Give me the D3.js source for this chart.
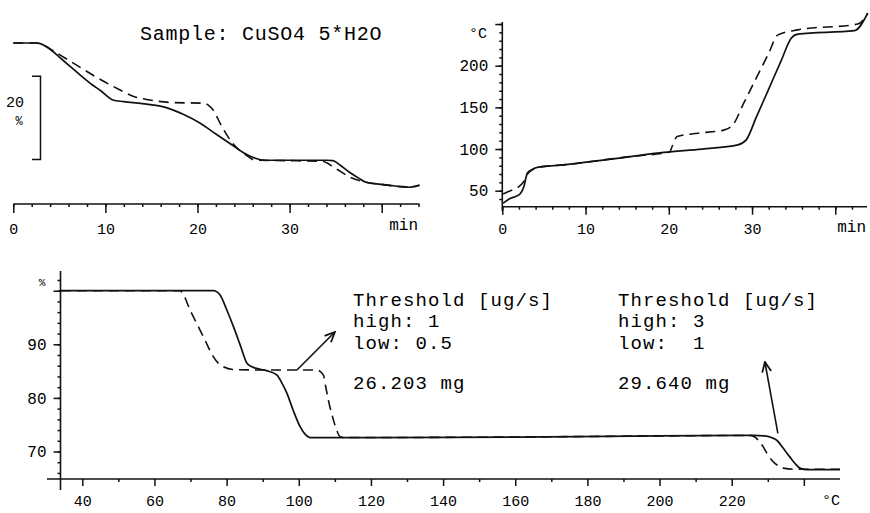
<!DOCTYPE html>
<html><head><meta charset="utf-8">
<script src="https://cdn.jsdelivr.net/npm/d3@7/dist/d3.min.js"></script>
<style>
body{margin:0;background:#fff}
svg{display:block}
text{font-family:"Liberation Mono","DejaVu Sans Mono",monospace;fill:#000}
</style>
</head><body>
<svg id="c" width="870" height="513"></svg>
<script>
// ---------------- DATA ----------------
const sampleTitle = "Sample: CuSO4 5*H2O";

// Top-left: mass loss (%) vs time (min)
const massSolidMin = [0, 2.5, 3, 4, 5, 6, 7, 8.6, 9.5, 10.8, 12, 14, 16.7, 18.5, 20.3, 22, 23.8, 25, 26, 27.5, 30, 34, 34.7, 35.5, 36.5, 37.5, 38.3, 39.9, 41.5, 43, 44.1];
const massSolidPct = [100, 100, 99.8, 98.5, 96.6, 94.7, 92.8, 89.9, 88.5, 86.3, 85.9, 85.4, 84.4, 82.8, 80.7, 78.1, 75.4, 73.6, 72.5, 71.8, 71.8, 71.8, 71.7, 70.6, 68.9, 67.5, 66.5, 66.0, 65.6, 65.3, 65.8];
const massDashMin = [0, 2.5, 3, 4, 5.1, 7, 9, 11.6, 13, 14.8, 17, 20.8, 21.2, 21.7, 22.5, 23.8, 25.3, 26.3, 30, 33.6, 35, 36.5, 38.3, 40, 43, 44.1];
const massDashPct = [100, 100, 99.8, 98.6, 97.1, 94.5, 91.8, 88.7, 87.2, 86.3, 85.7, 85.5, 85.0, 83.9, 80.5, 75.9, 73.0, 71.8, 71.7, 71.5, 69.8, 67.8, 66.5, 66.0, 65.3, 65.8];
const massTimeTicks = [0, 10, 20, 30, 40];
const massTimeLabels = ["0", "10", "20", "30", ""];
const scaleBarRange = [92, 72];   // the "20 %" bracket

// Top-right: temperature (°C) vs time (min)
const tempSolidMin = [0.1, 1, 1.6, 2.2, 2.6, 3, 3.5, 4.2, 7.4, 15.4, 19.4, 24, 28.3, 29.3, 30.5, 32, 33.5, 34.7, 35.5, 42.3, 43.9];
const tempSolidC   = [35, 41, 43, 47, 55, 71, 75, 78, 81, 91, 96, 100, 105, 111, 138, 172, 206, 233, 238, 242, 263];
const tempDashMin  = [0.1, 1, 2, 2.6, 3.1, 3.6, 4.2, 7.4, 15.4, 20.1, 20.4, 21, 23.5, 26.7, 27.7, 29, 30.5, 32, 33.1, 35.5, 42.7, 43.9];
const tempDashC    = [46, 50, 55, 61, 71, 75, 78, 81, 91, 96.5, 103, 115, 119, 123, 129, 155, 185, 215, 237, 243, 250, 263];
const tempTimeTicks = [0, 10, 20, 30, 40];
const tempTimeLabels = ["0", "10", "20", "30", ""];
const tempTicks = [50, 100, 150, 200, 250];
const tempLabels = ["50", "100", "150", "200", ""];

// Bottom: mass (%) vs temperature (°C)
const tgSolidC   = [34, 60, 74, 76.3, 77.5, 78.2, 80, 81.9, 83.8, 85.6, 87, 88.3, 91, 93.9, 95.3, 96.7, 98.5, 100.4, 101.8, 103.2, 120, 160, 200, 226, 229, 231, 232.5, 234.3, 236.1, 237.5, 238.9, 241, 250];
const tgSolidPct = [100, 100, 100, 100, 99.7, 99.2, 96.5, 93.3, 89.8, 86.5, 85.8, 85.5, 85.1, 84.3, 82.8, 80.9, 77.6, 74.6, 73.2, 72.6, 72.6, 72.7, 72.9, 73.0, 72.9, 72.6, 72.1, 70.6, 69.0, 67.8, 66.9, 66.6, 66.6];
const tgDashC    = [34, 60, 67, 67.5, 70, 72, 74, 76.3, 77.8, 79.1, 81.9, 90, 100, 105, 106.8, 107.5, 108.2, 109.6, 110.5, 111.4, 112.5, 160, 200, 225, 226.4, 227.5, 228.7, 230, 231.5, 233, 234.3, 237, 250];
const tgDashPct  = [100, 100, 100, 99.8, 96.2, 93.5, 90.8, 87.7, 86.4, 85.8, 85.3, 85.2, 85.2, 85.2, 84.3, 82.0, 79.6, 75.9, 74.0, 72.8, 72.6, 72.7, 72.9, 73.0, 72.7, 72.0, 70.9, 69.4, 68.1, 67.3, 66.9, 66.7, 66.7];
const tgTempTicks = [40, 60, 80, 100, 120, 140, 160, 180, 200, 220, 240];
const tgTempLabels = ["40", "60", "80", "100", "120", "140", "160", "180", "200", "220", ""];
const tgPctTicks = [70, 80, 90, 100];
const tgPctLabels = ["70", "80", "90", ""];

// Annotations
const thresholdA = ["Threshold [ug/s]", "high: 1", "low: 0.5", "26.203 mg"];
const thresholdB = ["Threshold [ug/s]", "high: 3", "low:  1", "29.640 mg"];
const arrowA = [[99.5, 85.2], [110.0, 92.3]];   // [°C, %]
const arrowB = [[232.8, 73.4], [229.2, 86.7]];

// ---------------- DRAW ----------------
const svg = d3.select("#c");
const ink = "#111";

const defs = svg.append("defs");
defs.append("marker").attr("id", "ah").attr("viewBox", "0 0 12 12")
  .attr("refX", 11).attr("refY", 6).attr("markerWidth", 12).attr("markerHeight", 12)
  .attr("markerUnits", "userSpaceOnUse").attr("orient", "auto")
  .append("path").attr("d", "M1,1.5 L11,6 L1,10.5").attr("fill", "none")
  .attr("stroke", ink).attr("stroke-width", 1.8);

function zip(a, b) { return a.map((v, i) => [v, b[i]]); }
function drawLine(g, x, y, xs, ys, dashed) {
  const line = d3.line().x(d => x(d[0])).y(d => y(d[1])).curve(d3.curveMonotoneX);
  g.append("path").datum(zip(xs, ys)).attr("d", line)
    .attr("fill", "none").attr("stroke", ink)
    .attr("stroke-width", dashed ? 1.6 : 1.7)
    .attr("stroke-dasharray", dashed ? "10,6" : null);
}
function styleAxis(g) {
  g.select(".domain").remove();
  g.selectAll("line").attr("stroke", ink).attr("stroke-width", 1.5);
  g.selectAll("text").style("font-family", '"Liberation Mono", monospace').style("font-size", "15px").attr("fill", ink);
}

// ---- Top-left ----
{
  const x = d3.scaleLinear().domain([0, 40]).range([13.3, 381.7]);
  const y = d3.scaleLinear().domain([100, 72]).range([43, 159.4]);
  const g = svg.append("g");
  const axY = 204;
  g.append("line").attr("x1", x(0)).attr("x2", x(44.1)).attr("y1", axY).attr("y2", axY)
    .attr("stroke", ink).attr("stroke-width", 1.6);
  const minor = g.append("g").attr("transform", `translate(0,${axY})`)
    .call(d3.axisBottom(x).tickValues(d3.range(0, 45, 2)).tickSize(3).tickFormat(""));
  styleAxis(minor);
  const major = g.append("g").attr("transform", `translate(0,${axY})`)
    .call(d3.axisBottom(x).tickValues(massTimeTicks).tickSize(9).tickFormat((d, i) => massTimeLabels[i]));
  styleAxis(major);
  major.selectAll("text").attr("y", 19).attr("dy", "0.71em");
  g.append("text").attr("x", 418).attr("y", 230).attr("text-anchor", "end").style("font-size", "16px").text("min");
  // scale bar
  const sb = d3.path();
  sb.moveTo(32, y(scaleBarRange[0])); sb.lineTo(40.5, y(scaleBarRange[0]));
  sb.lineTo(40.5, y(scaleBarRange[1])); sb.lineTo(32, y(scaleBarRange[1]));
  g.append("path").attr("d", sb.toString()).attr("fill", "none").attr("stroke", ink).attr("stroke-width", 1.5);
  g.append("text").attr("x", 15).attr("y", 107).attr("text-anchor", "middle").style("font-size", "15px").text("20");
  g.append("text").attr("x", 19).attr("y", 125).attr("text-anchor", "middle").style("font-size", "12px").text("%");
  drawLine(g, x, y, massSolidMin, massSolidPct, false);
  drawLine(g, x, y, massDashMin, massDashPct, true);
  g.append("text").attr("x", 140).attr("y", 40).style("font-size", "20px").style("letter-spacing", "0.75px").text(sampleTitle);
}

// ---- Top-right ----
{
  const x = d3.scaleLinear().domain([0, 40]).range([502.3, 835.3]);
  const y = d3.scaleLinear().domain([50, 200]).range([190.7, 65.7]);
  const g = svg.append("g");
  const axY = 206.7, axX = 502.3;
  g.append("line").attr("x1", axX).attr("x2", 867).attr("y1", axY).attr("y2", axY).attr("stroke", ink).attr("stroke-width", 1.6);
  g.append("line").attr("x1", axX).attr("x2", axX).attr("y1", 22).attr("y2", 211).attr("stroke", ink).attr("stroke-width", 1.6);
  const mx = g.append("g").attr("transform", `translate(0,${axY})`)
    .call(d3.axisBottom(x).tickValues(d3.range(0, 44, 2)).tickSize(3).tickFormat(""));
  styleAxis(mx);
  const Mx = g.append("g").attr("transform", `translate(0,${axY})`)
    .call(d3.axisBottom(x).tickValues(tempTimeTicks).tickSize(8).tickFormat((d, i) => tempTimeLabels[i]));
  styleAxis(Mx);
  Mx.selectAll("text").attr("y", 17).attr("dy", "0.71em");
  const my = g.append("g").attr("transform", `translate(${axX},0)`)
    .call(d3.axisLeft(y).tickValues(d3.range(40, 260, 10)).tickSize(3).tickFormat(""));
  styleAxis(my);
  const My = g.append("g").attr("transform", `translate(${axX},0)`)
    .call(d3.axisLeft(y).tickValues(tempTicks).tickSize(7).tickFormat((d, i) => tempLabels[i]));
  styleAxis(My);
  My.selectAll("text").attr("x", -14).style("font-size", "16px");
  g.append("text").attr("x", 487).attr("y", 38).attr("text-anchor", "end").style("font-size", "15px").text("°C");
  g.append("text").attr("x", 866).attr("y", 232).attr("text-anchor", "end").style("font-size", "16px").text("min");
  drawLine(g, x, y, tempSolidMin, tempSolidC, false);
  drawLine(g, x, y, tempDashMin, tempDashC, true);
}

// ---- Bottom ----
{
  const x = d3.scaleLinear().domain([40, 220]).range([82.3, 731.7]);
  const y = d3.scaleLinear().domain([100, 70]).range([290.7, 451.5]);
  const g = svg.append("g");
  const axY = 479, axX = 60.5;
  g.append("line").attr("x1", 47).attr("x2", 840).attr("y1", axY).attr("y2", axY).attr("stroke", ink).attr("stroke-width", 1.6);
  g.append("line").attr("x1", axX).attr("x2", axX).attr("y1", 271).attr("y2", 490).attr("stroke", ink).attr("stroke-width", 1.6);
  const mx = g.append("g").attr("transform", `translate(0,${axY})`)
    .call(d3.axisBottom(x).tickValues(d3.range(50, 250, 20)).tickSize(3).tickFormat(""));
  styleAxis(mx);
  const Mx = g.append("g").attr("transform", `translate(0,${axY})`)
    .call(d3.axisBottom(x).tickValues(tgTempTicks).tickSize(7).tickFormat((d, i) => tgTempLabels[i]));
  styleAxis(Mx);
  Mx.selectAll("text").attr("y", 16).attr("dy", "0.71em");
  const my = g.append("g").attr("transform", `translate(${axX},0)`)
    .call(d3.axisLeft(y).tickValues(d3.range(66, 104, 2)).tickSize(3).tickFormat(""));
  styleAxis(my);
  const My = g.append("g").attr("transform", `translate(${axX},0)`)
    .call(d3.axisLeft(y).tickValues(tgPctTicks).tickSize(7).tickFormat((d, i) => tgPctLabels[i]));
  styleAxis(My);
  My.selectAll("text").attr("x", -14).style("font-size", "16px");
  g.append("text").attr("x", 42).attr("y", 286).attr("text-anchor", "middle").style("font-size", "11px").text("%");
  g.append("text").attr("x", 840).attr("y", 505).attr("text-anchor", "end").style("font-size", "15px").text("°C");
  drawLine(g, x, y, tgSolidC, tgSolidPct, false);
  drawLine(g, x, y, tgDashC, tgDashPct, true);

  // arrows
  [arrowA, arrowB].forEach(a => {
    g.append("line").attr("x1", x(a[0][0])).attr("y1", y(a[0][1]))
      .attr("x2", x(a[1][0])).attr("y2", y(a[1][1]))
      .attr("stroke", ink).attr("stroke-width", 1.6).attr("marker-end", "url(#ah)");
  });
  // threshold texts
  const baselines = [306, 327, 349, 389];
  [[353, thresholdA], [618, thresholdB]].forEach(([tx, lines]) => {
    lines.forEach((s, i) => {
      g.append("text").attr("x", tx).attr("y", baselines[i])
        .style("font-size", "19px").style("letter-spacing", "1.1px")
        .style("white-space", "pre").attr("xml:space", "preserve").text(s);
    });
  });
}
</script>
</body></html>
